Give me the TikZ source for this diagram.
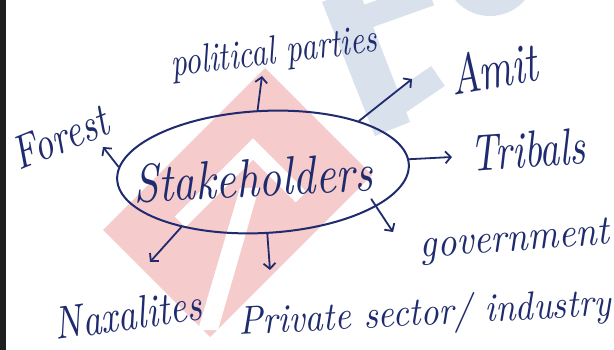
\documentclass[tikz,border=0pt]{standalone}
\usepackage{graphicx}
\usetikzlibrary{shapes.geometric,arrows.meta}
\definecolor{ink}{HTML}{1F2B6E}
\definecolor{wmpink}{HTML}{F5CBCB}
\definecolor{wmblue}{HTML}{D8E1EC}
\newcommand{\hw}[3]{\resizebox{#1pt}{#2pt}{\itshape #3}}
\begin{document}
\begin{tikzpicture}[x=1pt,y=-1pt,
  lbl/.style={inner sep=0pt, text=ink},
  arr/.style={draw=ink, line width=1.8pt, line cap=round,
    -{Straight Barb[length=5.5pt,width=12pt,line width=1.8pt]}},
  hub/.style={draw=ink, line width=2pt, ellipse, inner sep=0pt,
    minimum width=292pt, minimum height=122pt}]
\useasboundingbox (0,0) rectangle (614,350);
\fill[white] (0,0) rectangle (614,350);
\fill[black!88] (0,0) rectangle (6,350);
% faint watermark
\fill[wmpink] (265,68) -- (372,175) -- (210,337) -- (103,230) -- cycle;
\draw[white, line width=15pt, line join=miter] (180,222) -- (253,149) -- (301,197);
\fill[white] (240,188) -- (259,188) -- (218,330) -- (198,330) -- cycle;
\fill[wmblue] (322,2) -- (358,-12) -- (410,122) -- (375,136) -- cycle;
\draw[wmblue, line width=24pt] (394,106) -- (438,76);
\draw[wmblue, line width=24pt] (357,20) -- (430,-6);
\fill[wmblue] (490,-30) circle (46);
% hub
\node[hub, rotate=3] (stake) at (263,172) {};
\node[lbl, rotate=3] (stakelbl) at (253,178) {\hw{240}{38}{Stakeholders}};
% labels
\node[lbl, rotate=7] (pp) at (274,54) {\hw{208}{28}{political parties}};
\node[lbl, rotate=10] (amit) at (493,68) {\hw{88}{40}{Amit}};
\node[lbl, rotate=4] (trib) at (528,150) {\hw{115}{36}{Tribals}};
\node[lbl, rotate=22] (forest) at (60,137) {\hw{100}{32}{Forest}};
\node[lbl, rotate=8] (nax) at (128,314) {\hw{148}{32}{Naxalites}};
\node[lbl, rotate=4] (gov) at (515,242) {\hw{190}{26}{government}};
\node[lbl, rotate=3] (priv) at (425,315) {\hw{372}{30}{Private sector/ industry}};
% arrow tips
\coordinate (tipPP) at (262,76);
\coordinate (tipAmit) at (412,79);
\coordinate (tipTrib) at (452,157);
\coordinate (tipGov) at (393,232);
\coordinate (tipPriv) at (270,270);
\coordinate (tipNax) at (150,262);
\coordinate (tipFor) at (103,147);
\draw[arr] (stake.92) -- (tipPP);
\draw[arr] (stake.25) -- (tipAmit);
\draw[arr] (stake.2) -- (tipTrib);
\draw[arr, shorten <=-9pt] (stake.-20) -- (tipGov);
\draw[arr] (stake.-89) -- (tipPriv);
\draw[arr] (stake.-149) -- (tipNax);
\draw[arr] (stake.175) -- (tipFor);
\end{tikzpicture}
\end{document}
